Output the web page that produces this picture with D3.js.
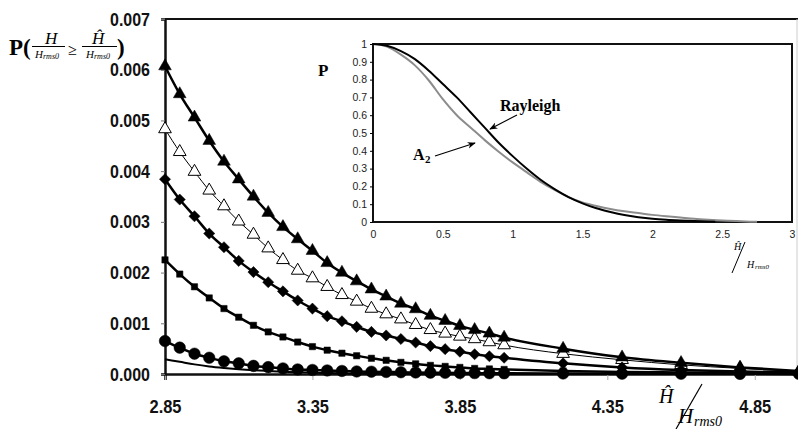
<!DOCTYPE html>
<html><head><meta charset="utf-8">
<script src="https://cdn.jsdelivr.net/npm/d3@7"></script>
<style>
body{margin:0;background:#fff}
svg{display:block}
.main-tick text{font-family:"Liberation Sans Narrow","Arial Narrow","Liberation Sans",Arial,sans-serif;font-weight:bold;font-size:19px;fill:#111}
.inset-tick text{font-family:"Liberation Sans",Arial,sans-serif;font-size:10.5px;fill:#222}
.serif{font-family:"Liberation Serif","Times New Roman",serif}
</style></head><body><svg width="798" height="429"></svg>
<script>
// main chart: x positions of the markers
const xVals = [2.85,2.9,2.95,3.0,3.05,3.1,3.15,3.2,3.25,3.3,3.35,3.4,3.45,3.5,3.55,3.6,3.65,3.7,3.75,3.8,3.85,3.9,3.95,4.0,4.2,4.4,4.6,4.8,5.0];
// values in units of 1e-3
const filledTri = [6.07,5.52,5.06,4.60,4.19,3.84,3.50,3.18,2.90,2.66,2.43,2.19,2.00,1.83,1.67,1.53,1.39,1.28,1.15,1.05,0.95,0.87,0.80,0.72,0.50,0.33,0.22,0.13,0.06];
const openTri = [4.83,4.38,3.99,3.62,3.31,3.01,2.75,2.48,2.25,2.04,1.89,1.72,1.56,1.43,1.29,1.18,1.08,0.97,0.87,0.80,0.74,0.69,0.63,0.57,0.40,0.28,0.18,0.11,0.05];
const diamonds = [3.84,3.44,3.11,2.77,2.50,2.23,2.01,1.81,1.63,1.45,1.29,1.14,1.04,0.93,0.83,0.76,0.69,0.62,0.55,0.49,0.44,0.39,0.35,0.32,0.21,0.13,0.08,0.05,0.03];
const squares = [2.25,1.97,1.72,1.50,1.29,1.12,0.96,0.83,0.73,0.63,0.54,0.47,0.41,0.36,0.31,0.27,0.23,0.20,0.17,0.15,0.13,0.11,0.10,0.09,0.06,0.04,0.03,0.02,0.01];
const circles = [0.65,0.52,0.40,0.32,0.25,0.21,0.16,0.135,0.11,0.09,0.08,0.07,0.06,0.05,0.045,0.04,0.035,0.03,0.027,0.024,0.02,0.018,0.016,0.014,0.01,0.007,0.005,0.003,0.002];
const plain = [0.29,0.24,0.19,0.15,0.12,0.095,0.075,0.06,0.045,0.035,0.027,0.02,0.015,0.012,0.009,0.007,0.005,0.004,0.003,0.002,0.002,0.001,0.001,0.001,0,0,0,0,0];
const yTicks = [0,0.001,0.002,0.003,0.004,0.005,0.006,0.007];
const xTicks = [2.85,3.35,3.85,4.35,4.85];

// inset chart
const rayX = [0,0.1,0.2,0.3,0.4,0.5,0.6,0.7,0.8,0.9,1.0,1.1,1.2,1.3,1.4,1.5,1.6,1.7,1.8,1.9,2.0,2.1,2.2,2.3,2.4,2.45];
const rayP = [1,0.99,0.96,0.915,0.85,0.775,0.70,0.615,0.53,0.445,0.37,0.30,0.237,0.185,0.14,0.105,0.077,0.056,0.039,0.027,0.018,0.012,0.008,0.005,0.003,0.002];
const a2X = [0,0.1,0.2,0.3,0.4,0.5,0.6,0.7,0.8,0.9,1.0,1.1,1.2,1.3,1.4,1.5,1.6,1.7,1.8,1.9,2.0,2.1,2.2,2.3,2.4,2.5,2.6,2.7,2.75];
const a2P = [1,0.985,0.94,0.88,0.795,0.69,0.60,0.53,0.46,0.395,0.335,0.28,0.225,0.18,0.14,0.11,0.09,0.073,0.06,0.05,0.04,0.032,0.025,0.018,0.013,0.009,0.005,0.002,0.001];
const insetYTicks = [0,0.1,0.2,0.3,0.4,0.5,0.6,0.7,0.8,0.9,1];
const insetXTicks = [0,0.5,1,1.5,2,2.5,3];

const svg = d3.select("svg");
const x = d3.scaleLinear().domain([2.85, 5.0]).range([165, 799]);
const y = d3.scaleLinear().domain([0, 0.007]).range([374, 19]);

// frame
svg.append("line").attr("x1", 165).attr("x2", 798).attr("y1", 19).attr("y2", 19)
  .attr("stroke", "#111").attr("stroke-width", 2);
svg.append("line").attr("x1", 797).attr("x2", 797).attr("y1", 19).attr("y2", 374)
  .attr("stroke", "#ccc").attr("stroke-width", 1);

const xAxis = svg.append("g").attr("class", "main-tick")
  .attr("transform", "translate(0,374)")
  .call(d3.axisBottom(x).tickValues(xTicks).tickFormat(d3.format(".2f")).tickSize(6).tickPadding(20));
xAxis.select(".domain").attr("stroke", "#111").attr("stroke-width", 2.5);
xAxis.selectAll(".tick line").attr("stroke", "#aaa");
xAxis.selectAll(".tick text").attr("textLength", 32).attr("lengthAdjust", "spacingAndGlyphs");

const yAxis = svg.append("g").attr("class", "main-tick")
  .attr("transform", "translate(165,0)")
  .call(d3.axisLeft(y).tickValues(yTicks).tickFormat(d3.format(".3f")).tickSize(4).tickPadding(11));
yAxis.select(".domain").attr("stroke", "#111").attr("stroke-width", 2.5);
yAxis.selectAll(".tick line").attr("stroke", "#777");
yAxis.selectAll(".tick text").attr("textLength", 40).attr("lengthAdjust", "spacingAndGlyphs");

// drawing order: open triangles sit under the filled ones
const series = [
  { vals: openTri, width: 1, marker: "tri", fill: "#fff" },
  { vals: filledTri, width: 2.5, marker: "tri", fill: "#000" },
  { vals: diamonds, width: 2.5, marker: "diamond", fill: "#000" },
  { vals: squares, width: 2.5, marker: "square", fill: "#000" },
  { vals: circles, width: 2.5, marker: "circle", fill: "#000" },
  { vals: plain, width: 2, marker: null, fill: "#000" }
];

const line = d3.line()
  .x((d, i) => x(xVals[i]))
  .y(d => y(d / 1000))
  .curve(d3.curveMonotoneX);

const plot = svg.append("g");
series.forEach(s => {
  plot.append("path")
    .attr("d", line(s.vals))
    .attr("fill", "none")
    .attr("stroke", "#000")
    .attr("stroke-width", s.width);
});

const symbols = {
  tri: d3.symbol().type(d3.symbolTriangle).size(70),
  diamond: d3.symbol().type(d3.symbolSquare).size(62),
  square: d3.symbol().type(d3.symbolSquare).size(40),
  circle: d3.symbol().type(d3.symbolCircle).size(105)
};

series.filter(s => s.marker).forEach(s => {
  plot.append("g").selectAll("path")
    .data(s.vals)
    .join("path")
    .attr("d", symbols[s.marker])
    .attr("transform", (d, i) => `translate(${x(xVals[i])},${y(d / 1000)})` + (s.marker === "diamond" ? " rotate(45)" : ""))
    .attr("fill", s.fill)
    .attr("stroke", "#000")
    .attr("stroke-width", s.fill === "#fff" ? 1 : 0.5);
});

// main y label
const yl = svg.append("g").attr("class", "serif").attr("fill", "#000");
yl.append("text").attr("x", 9).attr("y", 55).attr("font-size", 23).attr("font-weight", "bold").text("P(");
yl.append("text").attr("x", 45).attr("y", 44).attr("font-size", 17).attr("font-style", "italic").text("H");
yl.append("line").attr("x1", 32).attr("x2", 65).attr("y1", 46.5).attr("y2", 46.5).attr("stroke", "#000").attr("stroke-width", 1);
yl.append("text").attr("x", 35).attr("y", 58).attr("font-size", 11).attr("font-style", "italic").text("H");
yl.append("text").attr("x", 43).attr("y", 59).attr("font-size", 8).attr("font-style", "italic").text("rms0");
yl.append("text").attr("x", 68).attr("y", 55).attr("font-size", 16).text("≥");
yl.append("text").attr("x", 92).attr("y", 44).attr("font-size", 17).attr("font-style", "italic").text("Ĥ");
yl.append("line").attr("x1", 82).attr("x2", 117).attr("y1", 46.5).attr("y2", 46.5).attr("stroke", "#000").attr("stroke-width", 1);
yl.append("text").attr("x", 86).attr("y", 58).attr("font-size", 11).attr("font-style", "italic").text("H");
yl.append("text").attr("x", 94).attr("y", 59).attr("font-size", 8).attr("font-style", "italic").text("rms0");
yl.append("text").attr("x", 117).attr("y", 55).attr("font-size", 23).attr("font-weight", "bold").text(")");

// main x label
const xl = svg.append("g").attr("class", "serif").attr("fill", "#000");
xl.append("text").attr("x", 659).attr("y", 403).attr("font-size", 20).attr("font-style", "italic").text("Ĥ");
xl.append("line").attr("x1", 702).attr("y1", 384).attr("x2", 676).attr("y2", 429).attr("stroke", "#000").attr("stroke-width", 1.2);
xl.append("text").attr("x", 678).attr("y", 423).attr("font-size", 21).attr("font-style", "italic").text("H");
xl.append("text").attr("x", 694).attr("y", 426).attr("font-size", 14).attr("font-style", "italic").text("rms0");

// inset
const xi = d3.scaleLinear().domain([0, 3]).range([373, 792]);
const yi = d3.scaleLinear().domain([0, 1]).range([222, 44]);
svg.append("rect").attr("x", 373).attr("y", 44).attr("width", 419).attr("height", 178)
  .attr("fill", "#fff").attr("stroke", "#111").attr("stroke-width", 2);

const ixAxis = svg.append("g").attr("class", "inset-tick")
  .attr("transform", "translate(0,222)")
  .call(d3.axisBottom(xi).tickValues(insetXTicks).tickFormat(d3.format("~g")).tickSize(0).tickPadding(9));
ixAxis.select(".domain").remove();
const iyAxis = svg.append("g").attr("class", "inset-tick")
  .attr("transform", "translate(373,0)")
  .call(d3.axisLeft(yi).tickValues(insetYTicks).tickFormat(d3.format("~g")).tickSize(3).tickPadding(3));
iyAxis.select(".domain").remove();

const iline = d3.line().curve(d3.curveMonotoneX);
svg.append("path")
  .attr("d", iline(a2X.map((v, i) => [xi(v), yi(a2P[i])])))
  .attr("fill", "none").attr("stroke", "#8c8c8c").attr("stroke-width", 2);
svg.append("path")
  .attr("d", iline(rayX.map((v, i) => [xi(v), yi(rayP[i])])))
  .attr("fill", "none").attr("stroke", "#000").attr("stroke-width", 2);

svg.append("defs").append("marker")
  .attr("id", "arr").attr("viewBox", "0 0 10 10").attr("refX", 9).attr("refY", 5)
  .attr("markerWidth", 7).attr("markerHeight", 7).attr("orient", "auto")
  .append("path").attr("d", "M0,1 L10,5 L0,9 L3,5 Z").attr("fill", "#000");

const il = svg.append("g").attr("class", "serif").attr("fill", "#000");
il.append("text").attr("x", 318).attr("y", 76).attr("font-size", 17).attr("font-weight", "bold").text("P");
il.append("text").attr("x", 500).attr("y", 111).attr("font-size", 16).attr("font-weight", "bold").text("Rayleigh");
il.append("line").attr("x1", 517).attr("y1", 115).attr("x2", 490).attr("y2", 129)
  .attr("stroke", "#000").attr("stroke-width", 1.2).attr("marker-end", "url(#arr)");
il.append("text").attr("x", 413).attr("y", 160).attr("font-size", 16).attr("font-weight", "bold").text("A");
il.append("text").attr("x", 425).attr("y", 163).attr("font-size", 11).attr("font-weight", "bold").text("2");
il.append("line").attr("x1", 435).attr("y1", 156).attr("x2", 475).attr("y2", 143)
  .attr("stroke", "#000").attr("stroke-width", 1.2).attr("marker-end", "url(#arr)");
il.append("text").attr("x", 734).attr("y", 250).attr("font-size", 10).attr("font-style", "italic").text("Ĥ");
il.append("line").attr("x1", 745).attr("y1", 242).attr("x2", 732).attr("y2", 273).attr("stroke", "#000").attr("stroke-width", 1);
il.append("text").attr("x", 747).attr("y", 268).attr("font-size", 10).attr("font-style", "italic").text("H");
il.append("text").attr("x", 755).attr("y", 269).attr("font-size", 7).attr("font-style", "italic").text("rms0");
</script></body></html>
